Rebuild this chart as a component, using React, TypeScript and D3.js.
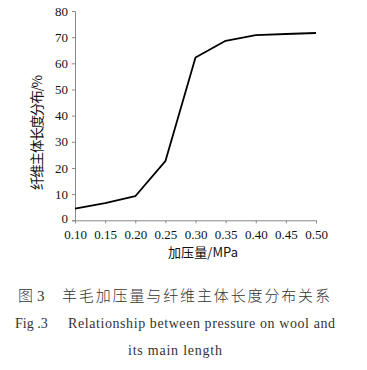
import React, { useEffect, useRef } from "react";
import * as d3 from "d3";

// pressure (MPa) vs main-length distribution (%)
const pressure = [0.1, 0.15, 0.2, 0.25, 0.3, 0.35, 0.4, 0.45, 0.5];
const mainLength = [4.5, 6.6, 9.2, 22.6, 62.2, 68.6, 70.8, 71.2, 71.6];
const yTicks = [0, 10, 20, 30, 40, 50, 60, 70, 80];

const W = 367;
const H = 370;
const margin = { left: 75, right: 51, top: 11, bottom: 150 };

const App = () => {
  const canvas = useRef<SVGSVGElement>(null);

  useEffect(() => {
    const svg = d3.select(canvas.current);
    svg.selectAll("*").remove();

    const x = d3
      .scaleLinear()
      .domain([0.1, 0.5])
      .range([margin.left, W - margin.right]);
    const y = d3
      .scaleLinear()
      .domain([0, 80])
      .range([H - margin.bottom + 0.3, margin.top]);

    const serif = "'Liberation Serif', 'DejaVu Serif', serif";

    // axes
    const xAxis = svg
      .append("g")
      .attr("transform", `translate(0,${y(0)})`)
      .call(
        d3
          .axisBottom(x)
          .tickValues(pressure)
          .tickFormat(d3.format(".2f"))
          .tickSizeOuter(0)
          .tickSize(3)
          .tickPadding(6)
      );
    const yAxis = svg
      .append("g")
      .attr("transform", `translate(${margin.left},0)`)
      .call(d3.axisLeft(y).tickValues(yTicks).tickSizeOuter(0).tickSize(3).tickPadding(4));

    [xAxis, yAxis].forEach((g) => {
      g.selectAll("path,line").attr("stroke", "#8a8a8a");
      g.selectAll("text")
        .attr("fill", "#111")
        .style("font-family", serif)
        .style("font-size", "13px");
    });
    // zero label sits a touch higher, as in the source
    yAxis.selectAll("text").filter((d) => d === 0).attr("dy", "0.2em");

    // line
    const line = d3
      .line<number>()
      .x((d, i) => x(pressure[i]))
      .y((d) => y(d));
    svg
      .append("path")
      .datum(mainLength)
      .attr("d", line)
      .attr("fill", "none")
      .attr("stroke", "#000")
      .attr("stroke-width", 1.8)
      .attr("stroke-linejoin", "round");

    // axis titles
    svg
      .append("text")
      .attr("x", 168)
      .attr("y", 257)
      .attr("textLength", 70)
      .style("font-family", "'Noto Sans CJK SC', serif")
      .style("font-size", "13px")
      .attr("fill", "#111")
      .text("加压量/MPa");

    svg
      .append("text")
      .attr("transform", "translate(42,190) rotate(-90)")
      .attr("textLength", 115)
      .style("font-family", "'Noto Sans CJK SC', sans-serif")
      .style("font-size", "13.5px")
      .attr("fill", "#111")
      .text("纤维主体长度分布/%");

    // captions
    const cap = svg.append("g").attr("fill", "#333");
    cap
      .append("text")
      .attr("x", 18)
      .attr("y", 301)
      .style("font-family", "'Noto Sans CJK SC', serif")
      .style("font-size", "15px")
      .style("font-weight", 300)
      .text("图");
    cap
      .append("text")
      .attr("x", 37)
      .attr("y", 301)
      .style("font-family", serif)
      .style("font-size", "15px")
      .text("3");
    cap
      .append("text")
      .attr("x", 62)
      .attr("y", 301)
      .attr("textLength", 268)
      .style("font-family", "'Noto Sans CJK SC', serif")
      .style("font-size", "15px")
      .style("font-weight", 300)
      .text("羊毛加压量与纤维主体长度分布关系");
    cap
      .append("text")
      .attr("x", 15)
      .attr("y", 328)
      .style("font-family", serif)
      .style("font-size", "14px")
      .text("Fig .3");
    cap
      .append("text")
      .attr("x", 68)
      .attr("y", 328)
      .attr("textLength", 267)
      .style("font-family", serif)
      .style("font-size", "14px")
      .text("Relationship between pressure on wool and");
    cap
      .append("text")
      .attr("x", 128)
      .attr("y", 355)
      .attr("textLength", 94)
      .style("font-family", serif)
      .style("font-size", "14px")
      .text("its main length");
  }, []);

  return (
    <svg
      ref={canvas}
      width={W}
      height={H}
      style={{ position: "absolute", left: 0, top: 0, background: "#fff" }}
    ></svg>
  );
};

export default App;
